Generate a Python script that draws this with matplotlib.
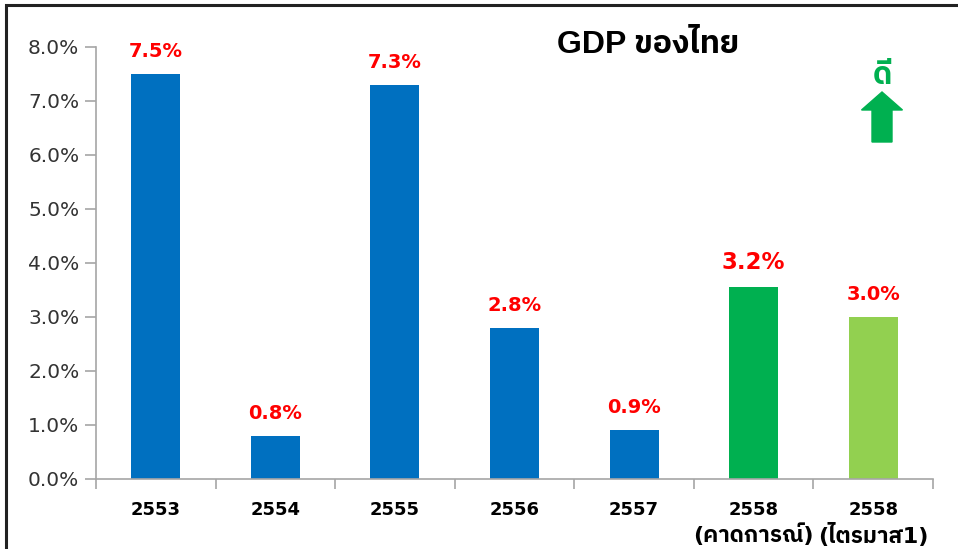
import matplotlib
matplotlib.use("Agg")
import matplotlib.pyplot as plt
from matplotlib.patches import FancyArrow, Rectangle
from matplotlib import font_manager

# data
years = ["2553", "2554", "2555", "2556", "2557", "2558", "2558"]
notes = ["", "", "", "", "", "(คาดการณ์)", "(ไตรมาส1)"]
gdp = [7.5, 0.8, 7.3, 2.8, 0.9, 3.55, 3.0]
labels = ["7.5%", "0.8%", "7.3%", "2.8%", "0.9%", "3.2%", "3.0%"]
colors = ["#0070C0"] * 5 + ["#00B050", "#92D050"]

# find something that can draw Thai
thai = []
for f in font_manager.fontManager.ttflist:
    if "Thai" in f.name or "Loma" in f.name or "Garuda" in f.name or "Sarabun" in f.name:
        thai.append(f.name)
thai = sorted(set(thai))
fams = ["DejaVu Sans"] + thai + ["Noto Sans"]
plt.rcParams["font.family"] = fams

fig = plt.figure(figsize=(9.58, 5.49), dpi=100)
ax = fig.add_axes([96 / 958, 1 - 479 / 549, (933 - 96) / 958, 432 / 549])

x = range(len(gdp))
ax.bar(x, gdp, width=0.41, color=colors, zorder=2)

for i, (v, t) in enumerate(zip(gdp, labels)):
    fs = 16.5 if i == 5 else 14
    ax.text(i, v + 0.24, t, ha="center", va="bottom", color="#FF0000",
            fontsize=fs, fontweight="bold")

ax.set_xlim(-0.5, len(gdp) - 0.5)
ax.set_ylim(0, 8)
ax.set_yticks([0, 1, 2, 3, 4, 5, 6, 7, 8])
ax.set_yticklabels(["%.1f%%" % v for v in range(9)], fontsize=14.5, color="#333333")
ax.set_xticks(list(x))
ax.set_xticklabels(years, fontsize=13, fontweight="bold", color="black")
ax.set_xticks([i + 0.5 for i in range(-1, len(gdp))], minor=True)

# second line under the last two years
for i, n in enumerate(notes):
    if n:
        ax.annotate(n, xy=(i, 0), xycoords=("data", "axes fraction"),
                    xytext=(0, -40), textcoords="offset points", ha="center",
                    va="center", fontsize=16, fontweight="bold", color="black",
                    annotation_clip=False)

for s in ["top", "right"]:
    ax.spines[s].set_visible(False)
for s in ["left", "bottom"]:
    ax.spines[s].set_color("#A6A6A6")
    ax.spines[s].set_linewidth(1.2)
ax.tick_params(axis="y", length=8, color="#A6A6A6", width=1.2, pad=4)
ax.tick_params(axis="x", which="major", length=0, pad=16)
ax.tick_params(axis="x", which="minor", length=7, color="#A6A6A6", width=1.2)

fig.text(648 / 958, 1 - 45 / 549, "GDP ของไทย", ha="center", va="center",
         fontsize=23, fontweight="bold", color="black",
         family=["Liberation Sans"] + thai + ["DejaVu Sans"])
fig.text(882 / 958, 1 - 76 / 549, "ดี", ha="center", va="center",
         fontsize=22, fontweight="bold", color="#00B050")
fig.patches.append(FancyArrow(882 / 958, 1 - 142 / 549, 0, 50 / 549,
                              width=20 / 958, head_width=41 / 958,
                              head_length=18 / 549, length_includes_head=True,
                              color="#00B050", transform=fig.transFigure, figure=fig))

# frame round the picture
fig.patches.append(Rectangle((6 / 958, -0.05), 1.1, 1 - 5 / 549 + 0.05, fill=False,
                             edgecolor="#222222", linewidth=2.2,
                             transform=fig.transFigure, figure=fig))

fig.savefig("out.png", dpi=100)
